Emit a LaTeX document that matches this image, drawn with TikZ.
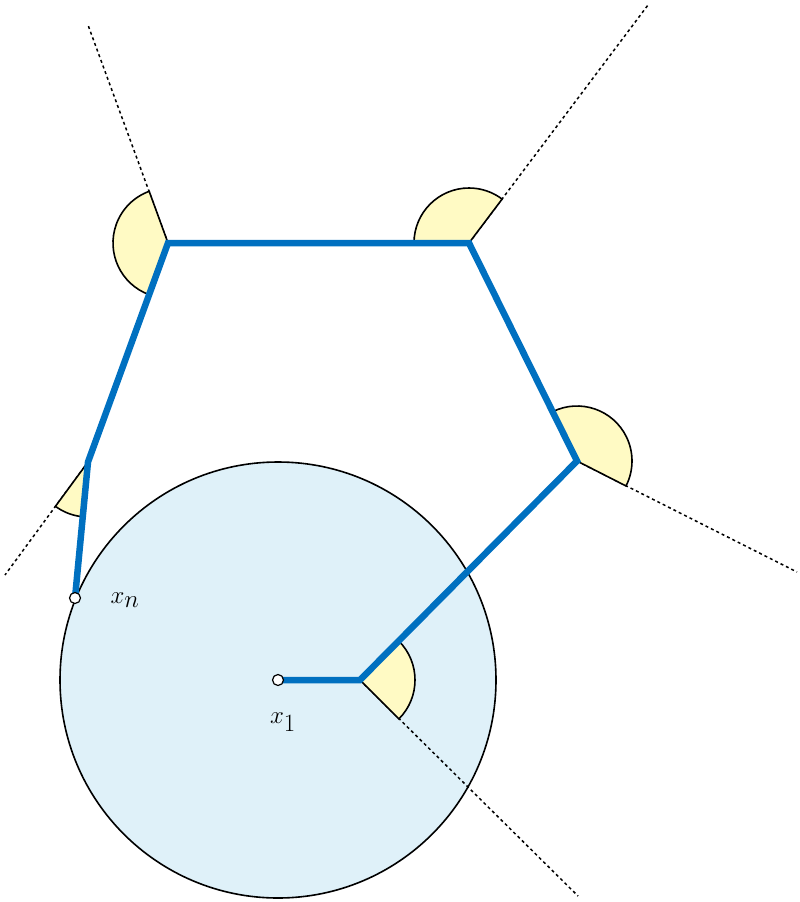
\documentclass[tikz,border=0pt]{standalone}
\begin{document}
\begin{tikzpicture}[x=1pt,y=-1pt,
  chain/.style={draw={rgb,255:red,0;green,112;blue,192},line width=6.5pt,line join=miter},
  wedge/.style={draw=black,line width=1.6pt,fill={rgb,255:red,255;green,250;blue,196}},
  ext/.style={dashed,line width=1.5pt},
  dot/.style={circle,draw=black,fill=white,line width=1.2pt,inner sep=0pt,minimum size=11pt},
  lab/.style={font=\fontsize{44}{44}\selectfont}]
\useasboundingbox (0,0) rectangle (800,902);
\coordinate (x1) at (278,680);
\coordinate (P1) at (360,680);
\coordinate (P2) at (577,461);
\coordinate (P3) at (469,243);
\coordinate (P4) at (168,243);
\coordinate (P5) at (88,462);
\coordinate (xn) at (75,598);
\coordinate (E1) at (578,896);
\coordinate (E2) at (797,572);
\coordinate (E3) at (648,5);
\coordinate (E4) at (88,25);
\coordinate (E5) at (5,575);
\draw[line width=1.6pt,fill={rgb,255:red,223;green,241;blue,249}] (x1) circle[x radius=218pt,y radius=218pt];
\draw[ext] (P1) -- (E1);
\draw[ext] (P2) -- (E2);
\draw[ext] (P3) -- (E3);
\draw[ext] (P4) -- (E4);
\draw[ext] (P5) -- (E5);
% y axis flipped: angles measured with flipped y
\draw[wedge] (P1) -- ++(-45:55) arc[start angle=-45,end angle=45,radius=55] -- cycle;
\draw[wedge] (P2) -- ++(-116:55) arc[start angle=-116,end angle=27,radius=55] -- cycle;
\draw[wedge] (P3) -- ++(180:55) arc[start angle=180,end angle=307,radius=55] -- cycle;
\draw[wedge] (P4) -- ++(110:55) arc[start angle=110,end angle=250,radius=55] -- cycle;
\draw[wedge] (P5) -- ++(95.5:55) arc[start angle=95.5,end angle=126.3,radius=55] -- cycle;
\draw[chain] (x1) -- (P1) -- (P2) -- (P3) -- (P4) -- (P5) -- (xn);
\node[dot] (d1) at (x1) {};
\node[dot] (dn) at (xn) {};
\node[lab] (l1) at (283,722) {$x_1$};
\node[lab] (ln) at (125,600) {$x_n$};
\end{tikzpicture}
\end{document}
